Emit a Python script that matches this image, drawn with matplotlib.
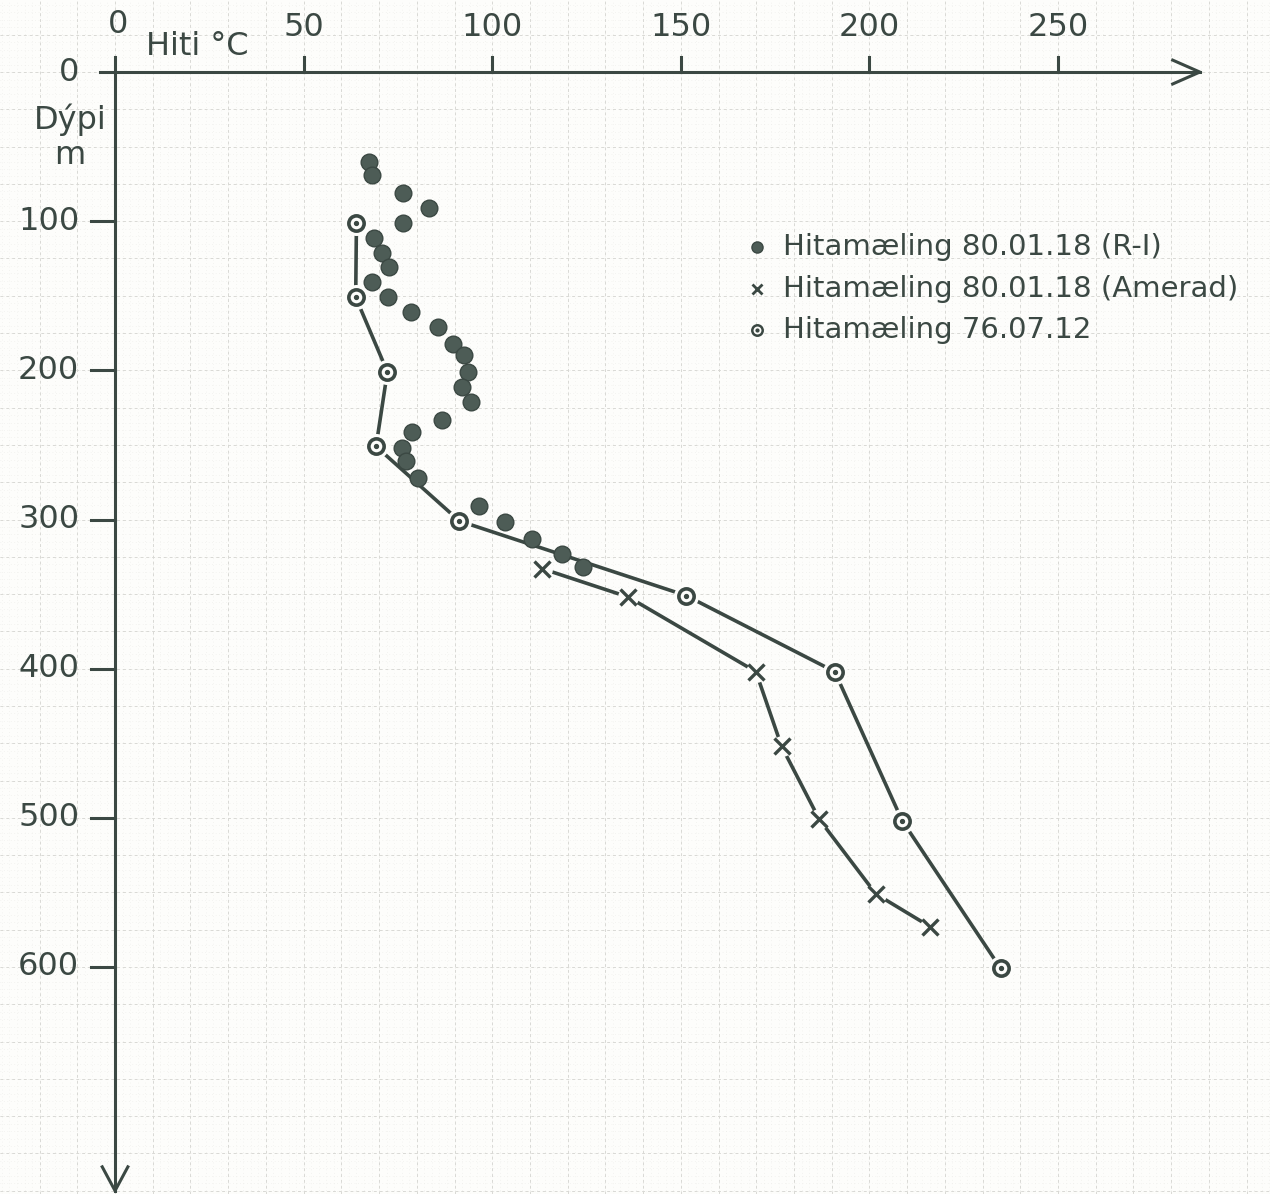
import numpy as np
import matplotlib
matplotlib.use("Agg")
import matplotlib.pyplot as plt

# Hitamæling 80.01.18 (R-I)  -- hiti (°C), dýpi (m)
r1_hiti = [67.2, 68.2, 76.4, 83.2, 76.4, 68.7, 70.7, 72.6, 68.0, 72.4, 78.5, 85.7,
           89.5, 92.5, 93.7, 92.1, 94.4, 86.6, 78.8, 76.2, 77.1, 80.2, 96.5, 103.4,
           110.6, 118.4, 124.0]
r1_dypi = [60, 69, 81, 91, 101, 111, 121, 131, 141, 151, 161, 171,
           182, 190, 201, 211, 221, 233, 241, 252, 261, 272, 291, 302,
           313, 323, 332]

# Hitamæling 80.01.18 (Amerad)
am_hiti = [113.3, 136.1, 169.9, 176.7, 186.7, 201.7, 216.1]
am_dypi = [333, 352, 402, 452, 501, 551, 573]

# Hitamæling 76.07.12
h76_hiti = [64.0, 63.8, 72.2, 69.2, 91.3, 151.4, 190.8, 208.7, 234.8]
h76_dypi = [101, 151, 201, 251, 301, 351, 402, 502, 601]

x_ticks = [50, 100, 150, 200, 250]
y_ticks = [0, 100, 200, 300, 400, 500, 600]
legend_labels = ["Hitamæling 80.01.18 (R-I)",
                 "Hitamæling 80.01.18 (Amerad)",
                 "Hitamæling 76.07.12"]

ink = "#3b4843"
dot = "#4d5c56"
paper = "#fdfdfb"

fig = plt.figure(figsize=(12.7, 11.94), dpi=100, facecolor=paper)
ax = fig.add_axes([0, 0, 1, 1])
ax.set_facecolor(paper)
ax.set_xlim(-30.5, 306.2)
ax.set_ylim(752.2, -48.3)
ax.axis("off")

# millimetre paper
for gx in np.arange(-30, 310, 2):
    ax.axvline(gx, color="#ebebe8", lw=0.5, ls=(0, (1, 4)), zorder=0)
for gy in np.arange(-45, 755, 5):
    ax.axhline(gy, color="#ebebe8", lw=0.5, ls=(0, (1, 4)), zorder=0)
for gx in np.arange(-20, 310, 10):
    ax.axvline(gx, color="#d9d9d5", lw=0.7, ls=(0, (3, 3)), zorder=0)
for gy in np.arange(-25, 755, 25):
    ax.axhline(gy, color="#d9d9d5", lw=0.7, ls=(0, (3, 3)), zorder=0)

# axes with open arrow heads
ax.plot([-4, 287.6], [0, 0], color=ink, lw=2.2, zorder=3)
ax.plot([280.4, 287.6, 280.4], [-8, 0, 8], color=ink, lw=2.2, zorder=3)
ax.plot([0, 0], [-10, 750], color=ink, lw=2.2, zorder=3)
ax.plot([-3.4, 0, 3.4], [734, 750, 734], color=ink, lw=2.2, zorder=3)

fs = 23
for t in x_ticks:
    ax.plot([t, t], [0, -10], color=ink, lw=2.2, zorder=3)
    ax.text(t, -30, str(t), ha="center", va="center", fontsize=fs, color=ink)
ax.text(0.8, -32, "0", ha="center", va="center", fontsize=fs, color=ink)
for t in y_ticks:
    if t > 0:
        ax.plot([-6.4, 0], [t, t], color=ink, lw=2.2, zorder=3)
    ax.text(-9.5, t, str(t), ha="right", va="center", fontsize=fs, color=ink)

ax.text(21.7, -17, "Hiti °C", ha="center", va="center", fontsize=fs, color=ink)
ax.text(-12, 32, "Dýpi", ha="center", va="center", fontsize=fs, color=ink)
ax.text(-12, 56, "m", ha="center", va="center", fontsize=fs, color=ink)

# series
ax.plot(h76_hiti, h76_dypi, color=ink, lw=2.6, zorder=4)
ax.plot(am_hiti, am_dypi, color=ink, lw=2.6, zorder=4)
ax.plot(h76_hiti, h76_dypi, ls="none", marker="o", ms=18, mfc=paper, mec="none", zorder=5)
ax.plot(am_hiti, am_dypi, ls="none", marker="o", ms=15, mfc=paper, mec="none", zorder=5)
ax.plot(r1_hiti, r1_dypi, ls="none", marker="o", ms=12, mfc=dot, mec=ink, mew=1, zorder=6)
ax.plot(am_hiti, am_dypi, ls="none", marker="x", ms=11, mec=ink, mew=2.4, zorder=6)
ax.plot(h76_hiti, h76_dypi, ls="none", marker="o", ms=11, mfc=paper, mec=ink, mew=2.6, zorder=6)
ax.plot(h76_hiti, h76_dypi, ls="none", marker="o", ms=2.8, mfc=ink, mec=ink, zorder=7)

# legend drawn on the paper
leg_x, leg_tx = 170.2, 177.1
leg_y = [117.3, 145.5, 172.8]
ax.plot(leg_x, leg_y[0], marker="o", ms=8, mfc=dot, mec=ink, mew=1, zorder=6)
ax.plot(leg_x, leg_y[1], marker="x", ms=7, mec=ink, mew=2, zorder=6)
ax.plot(leg_x, leg_y[2], marker="o", ms=7.5, mfc=paper, mec=ink, mew=1.8, zorder=6)
ax.plot(leg_x, leg_y[2], marker="o", ms=2, mfc=ink, mec=ink, zorder=7)
for yy, lab in zip(leg_y, legend_labels):
    ax.text(leg_tx, yy, lab, ha="left", va="center", fontsize=21, color=ink)

fig.savefig("out.png", dpi=100, facecolor=paper)
